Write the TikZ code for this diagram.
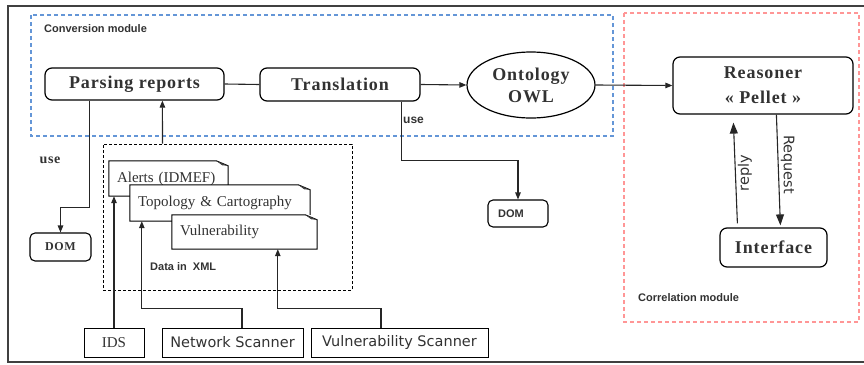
\documentclass[tikz,border=0pt]{standalone}
\usepackage{fontspec}
\setmainfont{Liberation Serif}
\newfontfamily\lsans{Liberation Sans}
\newfontfamily\dsans{DejaVu Sans}
\newfontfamily\bserif{Liberation Serif}[LetterSpace=5]
\usetikzlibrary{arrows.meta,calc,shapes.geometric}
\definecolor{txt}{RGB}{50,50,50}
\definecolor{bluedash}{RGB}{100,150,215}
\definecolor{reddash}{RGB}{255,150,150}
\newcommand\docout[1]{%
  \draw[line width=1pt] (#1.north west) -- ($(#1.north east)+(-12,0)$) -- ($(#1.north east)+(0,5)$) -- (#1.south east) -- (#1.south west) -- cycle;
  \fill[black!75] ($(#1.north east)+(-12,0)$) -- ($(#1.north east)+(0,5)$) -- ($(#1.north east)+(-6,4.5)$) -- cycle;}
\begin{document}
\begin{tikzpicture}[x=1pt,y=-1pt,
  frame/.style={draw=black!75, line width=2pt},
  bluebox/.style={draw=bluedash, line width=1.1pt, dash pattern=on 4pt off 3pt},
  redbox/.style={draw=reddash, line width=1.1pt, dash pattern=on 4pt off 3pt},
  lbl/.style={font=\lsans\bfseries\fontsize{11}{13}\selectfont, text=txt, inner sep=0pt},
  proc/.style={draw, line width=1.2pt, rounded corners=7pt, inner sep=0pt, text=txt,
    font=\bserif\bfseries\fontsize{18}{20}\selectfont},
  rbox/.style={draw, line width=1.2pt, rounded corners=7pt, inner sep=0pt, text=txt},
  docnode/.style={fill=white, inner xsep=8pt, inner ysep=0pt, align=left, text=txt,
    font=\fontsize{15}{17}\selectfont},
  src/.style={draw, line width=1pt, inner sep=0pt, text=txt},
  ln/.style={line width=1.1pt, draw=black!85},
  arr/.style={ln, -{Triangle[length=7pt,width=5.5pt]}},
  bigarr/.style={ln, -{Triangle[length=11pt,width=8pt]}},
  vlabel/.style={font=\dsans\fontsize{14.5}{16}\selectfont, text=txt, inner sep=2pt}
]
\useasboundingbox (0,0) rectangle (864,364);
\draw[frame] (866,6) -- (8,6) -- (8,362) -- (866,362);
\draw[bluebox] (31,15) rectangle (613,136);
\draw[redbox] (624,13) rectangle (859,322);
\node[lbl, anchor=west] (conv) at (44,29) {Conversion module};
\node[lbl, anchor=west] (corr) at (638,298) {Correlation module};

% main chain
\node[proc, minimum width=179pt, minimum height=32pt] (parsing) at (134.5,84) {Parsing reports};
\node[proc, minimum width=160pt, minimum height=33pt] (translation) at (340,84.5) {Translation};
\node[ellipse, draw, line width=1.2pt, inner sep=0pt, minimum width=128pt, minimum height=66pt,
  align=center, text=txt, font=\bserif\bfseries\fontsize{18}{22}\selectfont] (onto) at (531,85) {Ontology\\OWL};
\node[rbox, minimum width=180pt, minimum height=57pt, align=center,
  font=\bserif\bfseries\fontsize{18}{25}\selectfont] (reasoner) at (763,85.5) {Reasoner\\« Pellet »};
\node[rbox, minimum width=107pt, minimum height=39pt,
  font=\bserif\bfseries\fontsize{18}{20}\selectfont] (interface) at (773.5,247.5) {Interface};

% DOM boxes
\node[rbox, line width=1.1pt, rounded corners=5pt, minimum width=61pt, minimum height=28pt,
  font=\bserif\bfseries\fontsize{12}{13}\selectfont] (dom1) at (60.5,247) {DOM};
\node[rbox, line width=1.1pt, rounded corners=5pt, minimum width=60pt, minimum height=27pt,
  font=\lsans\bfseries\fontsize{11}{13}\selectfont] (dom2) at (518,213.5) {\hspace*{-14pt}DOM};

% data box and documents
\node[draw, line width=1pt, dash pattern=on 3pt off 2pt, minimum width=249pt, minimum height=146pt, inner sep=0pt] (databox) at (227.5,217) {};
\node[docnode, minimum height=35pt, text width=103pt] (alerts) at (168.5,178.5) {Alerts (IDMEF)};
\docout{alerts}
\node[docnode, minimum height=36pt, text width=164pt] (topo) at (220,203) {Topology \& Cartography};
\docout{topo}
\node[docnode, minimum height=34pt, text width=129pt] (vuln) at (244.5,232) {Vulnerability};
\docout{vuln}
\node[lbl, anchor=west, font=\lsans\bfseries\fontsize{11}{13}\selectfont] (xml) at (150,267) {Data in\ \ XML};

% sources
\node[src, minimum width=60pt, minimum height=29pt, font=\fontsize{15}{17}\selectfont] (ids) at (114,342.5) {IDS};
\node[src, minimum width=141pt, minimum height=29pt, font=\dsans\fontsize{14.5}{17}\selectfont] (ns) at (232.5,342.5) {Network Scanner};
\node[src, minimum width=177pt, minimum height=29pt, font=\dsans\fontsize{14.5}{17}\selectfont] (vs) at (399.5,342.5) {Vulnerability Scanner};

% labels
\node[text=txt, font=\bserif\bfseries\fontsize{14}{16}\selectfont, inner sep=0pt] (use1) at (50,160) {use};
\node[lbl, font=\lsans\bfseries\fontsize{12}{14}\selectfont, anchor=west] (use2) at (403,120) {use};

% connectors
\draw[ln] (parsing.east) -- (translation.west);
\draw[arr] (translation.east) -- (onto.west);
\draw[arr] (onto.east) -- (reasoner.west);
\draw[arr] ($(parsing.south west)+(45,0)$) -- ++(0,107) -| (dom1.north);
\draw[arr] ($(databox.north west)+(60,0)$) -- ($(parsing.south west)+(118,0)$);
\draw[arr] ($(translation.south west)+(142,0)$) -- ++(0,59) -| (dom2.north);
\draw[arr] (ids.north) -- (ids.north |- alerts.south);
\draw[arr] ($(ns.north)+(9.5,0)$) -- ++(0,-19) -| ($(topo.south west)+(12,0)$);
\draw[arr] ($(vs.north)+(-18.5,0)$) -- ++(0,-19) -| ($(vuln.south west)+(106,0)$);

\draw[bigarr] ($(interface.north west)+(18,-4)$) -- node[pos=0.5, rotate=90, anchor=north, vlabel] (replylbl) {reply} ($(reasoner.south west)+(61,8)$);
\draw[bigarr] ($(reasoner.south west)+(104,0)$) -- node[pos=0.45, rotate=-90, anchor=south, vlabel] (reqlbl) {Request} ($(interface.north west)+(61,-2)$);
\end{tikzpicture}
\end{document}
